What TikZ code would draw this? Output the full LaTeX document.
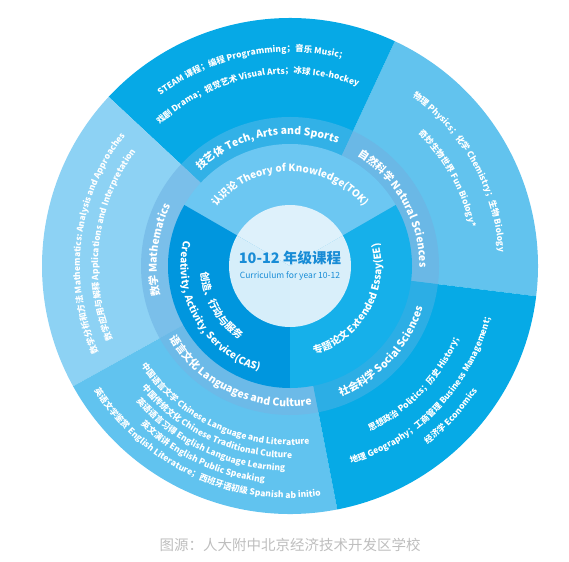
\documentclass[tikz,border=0pt]{standalone}
\usepackage{fontspec}
\setmainfont{Noto Sans CJK SC}
\usetikzlibrary{decorations.text}

\definecolor{steamblue}{RGB}{6,169,230}
\definecolor{mathblue}{RGB}{141,210,244}
\definecolor{langblue}{RGB}{97,195,239}
\definecolor{socblue}{RGB}{6,170,230}
\definecolor{sciblue}{RGB}{98,195,238}
\definecolor{techmid}{RGB}{50,177,231}
\definecolor{mathmid}{RGB}{122,191,234}
\definecolor{langmid}{RGB}{108,186,232}
\definecolor{socmid}{RGB}{44,174,229}
\definecolor{scimid}{RGB}{106,184,230}
\definecolor{tokblue}{RGB}{108,199,242}
\definecolor{casblue}{RGB}{0,150,222}
\definecolor{eeblue}{RGB}{22,176,234}
\definecolor{coreblue}{RGB}{214,238,250}
\definecolor{titleblue}{RGB}{24,140,214}
\definecolor{captiongrey}{RGB}{190,190,190}

\tikzset{
  outlabel/.style={decorate, decoration={text along path, text align=center, text color=white,
    text={|\fontsize{8.5}{8.5}\selectfont\bfseries|#1}}},
  midlabel/.style={decorate, decoration={text along path, text align=center, text color=white,
    text={|\fontsize{10.5}{10.5}\selectfont\bfseries|#1}}},
  innlabel/.style={decorate, decoration={text along path, text align=center, text color=white,
    text={|\fontsize{10}{10}\selectfont\bfseries|#1}}},
}

\begin{document}
\begin{tikzpicture}
    \useasboundingbox (-290pt,-295pt) rectangle (279pt,266pt);

    % outer ring
    \fill[sciblue] (0,0) -- (-7:248pt) arc[start angle=-7, end angle=65, radius=248pt] -- cycle;
    \fill[steamblue] (0,0) -- (65:248pt) arc[start angle=65, end angle=137, radius=248pt] -- cycle;
    \fill[mathblue] (0,0) -- (137:248pt) arc[start angle=137, end angle=209, radius=248pt] -- cycle;
    \fill[langblue] (0,0) -- (209:248pt) arc[start angle=209, end angle=281, radius=248pt] -- cycle;
    \fill[socblue] (0,0) -- (281:248pt) arc[start angle=281, end angle=353, radius=248pt] -- cycle;

    % middle ring
    \fill[scimid] (0,0) -- (-7:149pt) arc[start angle=-7, end angle=65, radius=149pt] -- cycle;
    \fill[techmid] (0,0) -- (65:149pt) arc[start angle=65, end angle=137, radius=149pt] -- cycle;
    \fill[mathmid] (0,0) -- (137:149pt) arc[start angle=137, end angle=209, radius=149pt] -- cycle;
    \fill[langmid] (0,0) -- (209:149pt) arc[start angle=209, end angle=281, radius=149pt] -- cycle;
    \fill[socmid] (0,0) -- (281:149pt) arc[start angle=281, end angle=353, radius=149pt] -- cycle;

    % inner ring
    \fill[tokblue] (0,0) -- (30:122pt) arc[start angle=30, end angle=150, radius=122pt] -- cycle;
    \fill[casblue] (0,0) -- (150:122pt) arc[start angle=150, end angle=270, radius=122pt] -- cycle;
    \fill[eeblue] (0,0) -- (270:122pt) arc[start angle=270, end angle=390, radius=122pt] -- cycle;

    % core
    \fill[coreblue!80!white] (0,0) -- (30:61pt) arc[start angle=30, end angle=150, radius=61pt] -- cycle;
    \fill[coreblue] (0,0) -- (150:61pt) arc[start angle=150, end angle=270, radius=61pt] -- cycle;
    \fill[coreblue!92!white] (0,0) -- (270:61pt) arc[start angle=270, end angle=390, radius=61pt] -- cycle;
    \node[font=\fontsize{14.5}{14.5}\selectfont\bfseries, text=titleblue] (title) at (0pt,8pt) {10-12 年级课程};
    \node[font=\fontsize{8.5}{8.5}\selectfont, text=titleblue] (subtitle) at (0pt,-10pt) {Curriculum for year 10-12};

    % outer labels
    \path[outlabel={STEAM 课程；编程 Programming；音乐 Music；}] (146:214pt) arc[start angle=146, end angle=56, radius=214pt];
    \path[outlabel={戏剧 Drama；视觉艺术 Visual Arts；冰球 Ice-hockey}] (146:192pt) arc[start angle=146, end angle=56, radius=192pt];
    \path[outlabel={物理 Physics；化学 Chemistry；生物 Biology}] (74:209pt) arc[start angle=74, end angle=-16, radius=209pt];
    \path[outlabel={奇妙生物世界 Fun Biology*}] (74:184pt) arc[start angle=74, end angle=-16, radius=184pt];
    \path[outlabel={数学分析和方法 Mathematics: Analysis and Approaches}] (218:210pt) arc[start angle=218, end angle=128, radius=210pt];
    \path[outlabel={数学应用与解释 Applications and Interpretation}] (218:192pt) arc[start angle=218, end angle=128, radius=192pt];
    \path[outlabel={思想政治 Politics；历史 History；}] (272:184pt) arc[start angle=272, end angle=362, radius=184pt];
    \path[outlabel={地理 Geography；工商管理 Business Management；}] (272:207pt) arc[start angle=272, end angle=362, radius=207pt];
    \path[outlabel={经济学 Economics}] (272:225pt) arc[start angle=272, end angle=362, radius=225pt];
    \path[outlabel={中国语言文学 Chinese Language and Literature}] (200:179pt) arc[start angle=200, end angle=290, radius=179pt];
    \path[outlabel={中国传统文化 Chinese Traditional Culture}] (200:192pt) arc[start angle=200, end angle=290, radius=192pt];
    \path[outlabel={英语语言习得 English Language Learning}] (200:205pt) arc[start angle=200, end angle=290, radius=205pt];
    \path[outlabel={英文演讲 English Public Speaking}] (200:218pt) arc[start angle=200, end angle=290, radius=218pt];
    \path[outlabel={英语文学鉴赏 English Literature；西班牙语初级 Spanish ab initio}] (200:232pt) arc[start angle=200, end angle=290, radius=232pt];

    % middle labels
    \path[midlabel={技艺体 Tech, Arts and Sports}] (146:131.3pt) arc[start angle=146, end angle=56, radius=131.3pt];
    \path[midlabel={自然科学 Natural Sciences}] (74:129.3pt) arc[start angle=74, end angle=-16, radius=129.3pt];
    \path[midlabel={数学 Mathematics}] (218:133.3pt) arc[start angle=218, end angle=128, radius=133.3pt];
    \path[midlabel={语言文化 Languages and Culture}] (200:140.7pt) arc[start angle=200, end angle=290, radius=140.7pt];
    \path[midlabel={社会科学 Social Sciences}] (272:139.7pt) arc[start angle=272, end angle=362, radius=139.7pt];

    % inner labels
    \path[innlabel={认识论 Theory of Knowledge(TOK)}] (160:94.5pt) arc[start angle=160, end angle=20, radius=94.5pt];
    \path[innlabel={Creativity, Activity, Service(CAS)}] (150:109.5pt) arc[start angle=150, end angle=270, radius=109.5pt];
    \path[innlabel={创造、行动与服务}] (150:89.5pt) arc[start angle=150, end angle=270, radius=89.5pt];
    \path[innlabel={专题论文 Extended Essay(EE)}] (270:91.5pt) arc[start angle=270, end angle=390, radius=91.5pt];

    \node[font=\fontsize{14.5}{14.5}\selectfont, text=captiongrey] (source) at (0pt,-279pt) {图源：人大附中北京经济技术开发区学校};
\end{tikzpicture}
\end{document}
